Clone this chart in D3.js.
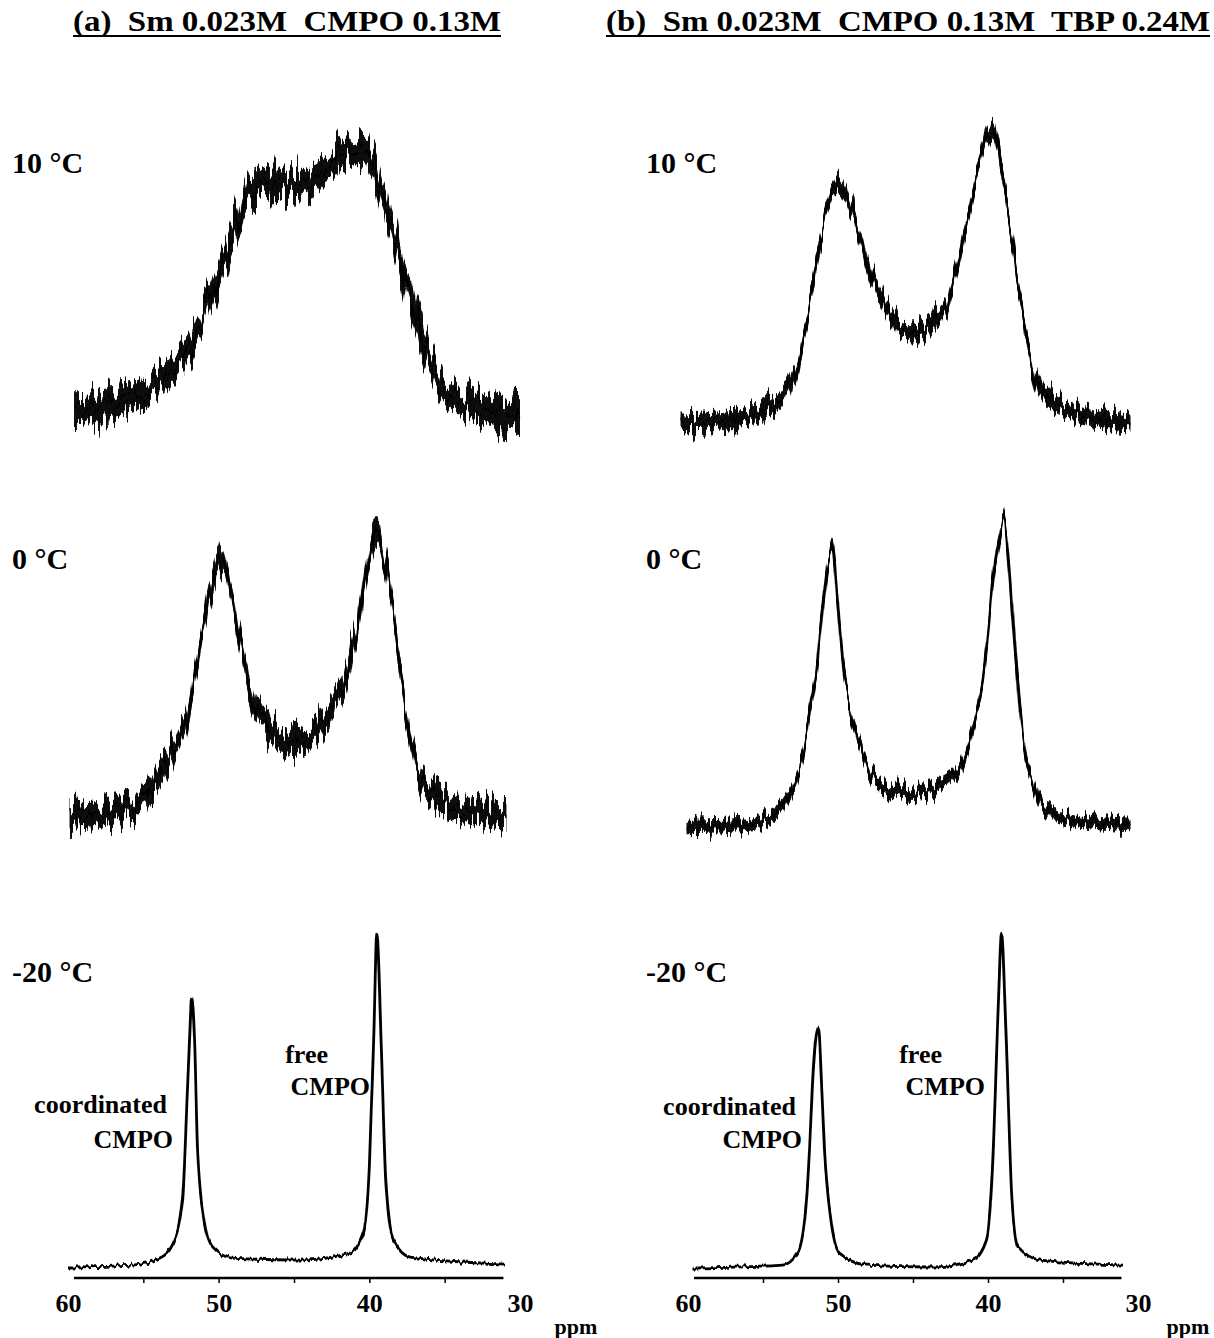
<!DOCTYPE html>
<html>
<head>
<meta charset="utf-8">
<script src="https://cdn.jsdelivr.net/npm/d3@7"></script>
<style>
  body { margin:0; background:#fff; }
  text { font-family:"Liberation Serif","Times New Roman",serif; font-weight:bold; fill:#000; }
</style>
</head>
<body>
<div id="chart"></div>
<script>
//DATA - 31P chemical shift (ppm) and intensity (arb. units, tallest peak ~100)

// (a) Sm 0.023M CMPO 0.13M, 10 C
var ppmA10 = [59.6, 59.4, 56.1, 53.9, 51.7, 50.6, 49.4, 48.8, 48.1, 47.3, 46.1, 45.1, 43.9, 42.8, 41.7, 40.6, 39.8, 39.1, 38.4, 37.3, 36.2, 35.1, 32.9, 30.0];
var intA10 = [3.0, 3.0, 6.1, 11.2, 24.2, 36.4, 51.5, 58.5, 68.8, 71.8, 72.7, 70.6, 72.7, 75.8, 80.9, 81.8, 77.9, 67.6, 56.7, 36.4, 21.2, 10.0, 3.9, 0.9];
// (b) + TBP 0.24M, 10 C
var ppmB10 = [60.5, 57.4, 54.5, 53.0, 52.3, 51.7, 51.0, 50.3, 49.9, 49.4, 48.7, 48.1, 47.2, 46.3, 45.0, 43.7, 42.7, 41.9, 41.0, 40.3, 39.7, 39.2, 38.5, 37.9, 37.2, 36.3, 34.1, 30.5];
var intB10 = [0.6, 1.5, 5.5, 14.5, 25.8, 41.8, 60.0, 70.3, 73.3, 69.1, 60.0, 50.0, 40.0, 31.8, 27.9, 30.9, 37.9, 50.9, 70.3, 85.5, 90.3, 80.3, 60.0, 40.0, 20.6, 9.7, 3.6, 0.6];
// (a) 0 C
var ppmA0 = [59.9, 56.1, 53.9, 52.8, 52.1, 51.4, 50.8, 50.1, 49.8, 49.2, 48.6, 47.9, 47.1, 45.9, 45.1, 43.7, 42.4, 41.5, 40.8, 40.2, 39.5, 39.0, 38.4, 37.8, 37.1, 36.2, 34.0, 30.9];
var intA0 = [1.5, 3.6, 14.8, 23.9, 31.8, 49.1, 65.2, 77.3, 80.3, 69.4, 55.2, 40.9, 31.8, 24.8, 23.9, 27.0, 34.8, 45.2, 59.1, 75.5, 87.6, 79.4, 64.2, 40.9, 21.8, 10.6, 4.5, 1.5];
// (b) 0 C
var ppmB0 = [60.1, 56.3, 54.5, 53.4, 52.5, 51.9, 51.4, 51.0, 50.7, 50.4, 50.1, 49.7, 49.1, 48.5, 47.4, 46.3, 44.5, 42.7, 41.7, 40.8, 40.1, 39.7, 39.2, 39.0, 38.6, 38.2, 37.7, 37.0, 36.1, 34.1, 30.5];
var intB0 = [0.3, 0.9, 3.3, 8.5, 18.5, 33.6, 48.8, 67.0, 79.1, 84.2, 73.0, 50.9, 34.8, 24.5, 14.5, 11.5, 10.6, 13.6, 19.7, 33.6, 53.9, 74.2, 89.4, 94.2, 79.1, 53.9, 28.8, 13.6, 5.5, 2.4, 0.9];
// (a) -20 C
var ppmA20 = [60.0, 55.7, 53.9, 53.0, 52.4, 52.1, 51.9, 51.8, 51.6, 51.4, 51.0, 50.4, 49.1, 44.6, 41.3, 40.4, 40.0, 39.7, 39.5, 39.2, 38.9, 38.4, 37.3, 31.0];
var intA20 = [0.3, 0.9, 3.0, 7.6, 20.6, 50.9, 73.0, 82.1, 69.1, 35.8, 15.5, 6.4, 3.0, 2.4, 4.5, 10.6, 30.6, 71.2, 101.5, 66.1, 25.8, 8.5, 3.3, 1.2];
// (b) -20 C
var ppmB20 = [59.7, 53.7, 52.7, 52.2, 51.9, 51.7, 51.3, 51.1, 50.9, 50.5, 49.9, 48.1, 43.7, 41.0, 40.1, 39.7, 39.3, 39.1, 38.8, 38.4, 38.0, 36.5, 31.0];
var intB20 = [0.0, 0.9, 4.5, 15.5, 35.8, 56.1, 73.0, 56.1, 35.8, 15.5, 4.5, 0.9, 0.3, 2.4, 8.5, 30.6, 81.2, 101.5, 71.2, 20.6, 6.4, 2.4, 0.9];

// noise band half-width (same units)
var noiseA10 = 4.2, noiseB10 = 2.6, noiseA0 = 3.6, noiseB0 = 1.9, noiseA20 = 0, noiseB20 = 0;

var temps = ["10 \u00B0C", "0 \u00B0C", "-20 \u00B0C"];
var titles = ["(a)  Sm 0.023M  CMPO 0.13M", "(b)  Sm 0.023M  CMPO 0.13M  TBP 0.24M"];
var tickLabels = [60, 50, 40, 30];
var minorTicks = [55, 50, 45, 40, 35];

//LAYOUT
var width = 1214, height = 1338;
var panels = [
  {x0: 68, x1: 520, titleX: 287, titleLen: 428, labelX: 12, ppmX: 576},
  {x0: 688, x1: 1138, titleX: 908, titleLen: 604, labelX: 646, ppmX: 1188}
];
var rows = [{labelY: 173}, {labelY: 569}, {labelY: 982}];
var unitPx = 3.3;  // px per intensity unit
var axisY = 1278;

function pack(p, v){ return p.map(function(d,i){ return {ppm:d, v:v[i]}; }); }

// jitter = strength of the scribble texture (px), purely a drawing style
var spectra = [
  {panel:0, pts:pack(ppmA10,intA10), noise:noiseA10, base:420, jitter:58},
  {panel:1, pts:pack(ppmB10,intB10), noise:noiseB10, base:425, jitter:38},
  {panel:0, pts:pack(ppmA0,intA0), noise:noiseA0, base:822, jitter:52},
  {panel:1, pts:pack(ppmB0,intB0), noise:noiseB0, base:828, jitter:30},
  {panel:0, pts:pack(ppmA20,intA20), noise:noiseA20, base:1268, jitter:7},
  {panel:1, pts:pack(ppmB20,intB20), noise:noiseB20, base:1268, jitter:6}
];

var svg = d3.select("#chart").append("svg")
  .attr("width", width)
  .attr("height", height);

svg.append("rect").attr("width", width).attr("height", height).attr("fill", "#fff");

//scribble texture: vertical-only displacement
var defs = svg.append("defs");
spectra.forEach(function(s, i){
  var f = defs.append("filter").attr("id", "scribble" + i)
    .attr("x", "-3%").attr("y", "-15%").attr("width", "106%").attr("height", "130%");
  f.append("feTurbulence").attr("type", "fractalNoise")
    .attr("baseFrequency", "0.3 0.012").attr("numOctaves", 2).attr("seed", i + 3)
    .attr("result", "turb");
  f.append("feColorMatrix").attr("in", "turb").attr("type", "matrix")
    .attr("values", "0 0 0 0 0.5  0 1 0 0 0  0 0 0 0 0  0 0 0 0 1")
    .attr("result", "map");
  f.append("feDisplacementMap").attr("in", "SourceGraphic").attr("in2", "map")
    .attr("scale", s.jitter).attr("xChannelSelector", "R").attr("yChannelSelector", "G");
});

//---TITLES
panels.forEach(function(p, i){
  svg.append("text")
    .attr("x", p.titleX).attr("y", 31)
    .attr("text-anchor", "middle")
    .attr("xml:space", "preserve")
    .attr("textLength", p.titleLen)
    .attr("lengthAdjust", "spacingAndGlyphs")
    .style("font-size", "30px")
    .text(titles[i]);
  svg.append("line")
    .attr("x1", p.titleX - p.titleLen/2).attr("x2", p.titleX + p.titleLen/2)
    .attr("y1", 36).attr("y2", 36)
    .attr("stroke", "#000").attr("stroke-width", 2);

  rows.forEach(function(r, j){
    svg.append("text")
      .attr("x", p.labelX).attr("y", r.labelY)
      .style("font-size", "30px")
      .text(temps[j]);
  });
});

//---SPECTRA
spectra.forEach(function(s, i){
  var p = panels[s.panel];
  var x = d3.scaleLinear().domain([60, 30]).range([p.x0, p.x1]);
  var y = d3.scaleLinear().domain([0, 100]).range([s.base, s.base - 100*unitPx]);

  var band = d3.area()
    .x(function(d){ return x(d.ppm); })
    .y0(function(d){ return y(d.v - s.noise); })
    .y1(function(d){ return y(d.v + s.noise); })
    .curve(d3.curveMonotoneX);
  var line = d3.line()
    .x(function(d){ return x(d.ppm); })
    .y(function(d){ return y(d.v); })
    .curve(d3.curveMonotoneX);

  var g = svg.append("g").attr("filter", "url(#scribble" + i + ")");
  if (s.noise > 0) {
    g.append("path").datum(s.pts)
      .attr("d", band)
      .attr("fill", "#111");
  }
  g.append("path").datum(s.pts)
    .attr("d", line)
    .attr("fill", "none").attr("stroke", "#000").attr("stroke-width", 2.8)
    .attr("stroke-linejoin", "round");
});

//---AXES
panels.forEach(function(p){
  var x = d3.scaleLinear().domain([60, 30]).range([p.x0, p.x1]);
  var ax = svg.append("g").attr("transform", "translate(0," + axisY + ")");
  ax.append("line")
    .attr("x1", x(59.6)).attr("x2", x(31.1))
    .attr("stroke", "#000").attr("stroke-width", 2.5);
  var ticks = svg.append("g").attr("transform", "translate(0," + axisY + ")")
    .call(d3.axisBottom(x).tickValues(minorTicks).tickSize(5).tickFormat(""));
  ticks.select(".domain").remove();
  ticks.selectAll(".tick line").attr("stroke", "#000").attr("stroke-width", 1.5);
  var labs = svg.append("g").attr("transform", "translate(0," + (axisY + 13) + ")")
    .call(d3.axisBottom(x).tickValues(tickLabels).tickSize(0).tickFormat(d3.format("d")));
  labs.select(".domain").remove();
  labs.selectAll("text")
    .style("font-family", "'Liberation Serif', serif")
    .style("font-weight", "bold")
    .style("font-size", "26px");
  svg.append("text")
    .attr("x", p.ppmX).attr("y", 1334)
    .attr("text-anchor", "middle")
    .style("font-size", "22px")
    .text("ppm");
});

//---PEAK ANNOTATIONS
var notes = [
  {x: 167, y: 1113, t: "coordinated"}, {x: 173, y: 1148, t: "CMPO"},
  {x: 328, y: 1063, t: "free"}, {x: 370, y: 1095, t: "CMPO"},
  {x: 796, y: 1115, t: "coordinated"}, {x: 802, y: 1148, t: "CMPO"},
  {x: 942, y: 1063, t: "free"}, {x: 985, y: 1095, t: "CMPO"}
];
svg.selectAll("text.note").data(notes).enter().append("text")
  .attr("class", "note")
  .attr("x", function(d){ return d.x; })
  .attr("y", function(d){ return d.y; })
  .attr("text-anchor", "end")
  .style("font-size", "26px")
  .text(function(d){ return d.t; });
</script>
</body>
</html>
